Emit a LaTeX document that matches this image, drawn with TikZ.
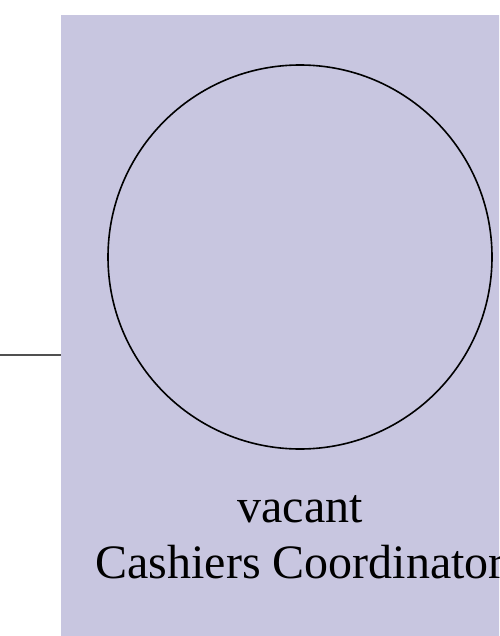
\documentclass[tikz,border=0pt]{standalone}
\usepackage{fontspec}
\setmainfont{Liberation Serif}
\definecolor{boxfill}{RGB}{200,198,224}
\definecolor{linkgray}{RGB}{80,80,80}
\begin{document}
\begin{tikzpicture}[x=1pt,y=1pt,
  unitbox/.style={fill=boxfill,draw=none},
  photo/.style={circle,draw=black,line width=1.6pt,minimum size=384pt,inner sep=0pt},
  caption/.style={font=\fontsize{48}{56}\selectfont,align=center,text=black,inner sep=0pt},
  link/.style={draw=linkgray,line width=2.2pt}]
\useasboundingbox (0,0) rectangle (499,-636);
\clip (0,0) rectangle (499,-636);
\fill[unitbox] (61,-15) rectangle (560,-700);
\node[photo] (pic) at (300,-257) {};
\node[caption,anchor=base] (name) at (300,-522) {vacant};
\node[caption,anchor=base] (title) at (300,-578) {Cashiers Coordinator};
\coordinate (left) at (0,-355);
\coordinate (edge) at (61,-355);
\draw[link] (left) -- (edge);
\end{tikzpicture}
\end{document}
